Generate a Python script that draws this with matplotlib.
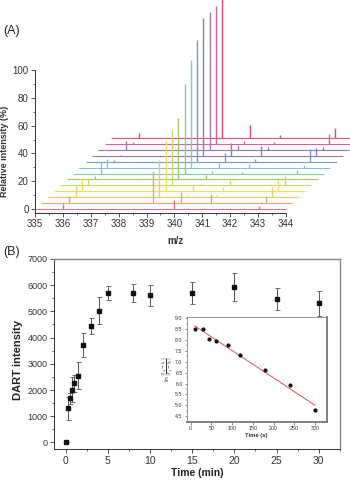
import numpy as np
import matplotlib
matplotlib.use("Agg")
import matplotlib.pyplot as plt
from matplotlib.ticker import MultipleLocator

plt.rcParams['font.family'] = ['Liberation Sans', 'DejaVu Sans']

# ---- panel A: stacked mass spectra (13 time points) ----
mz_main = 339.0
mz_minor = [336.0, 340.0, 341.07, 343.05]
h339 = [0, 22.8, 26.4, 36.0, 39.8, 44.6, 64.5, 77.5, 87.8, 99.5, 99.3, 99.5, 100]
h336 = [3.8, 4.8, 7.7, 9.4, 4.3, 2.6, 8.6, 6.2, 1.4, 0.5, 6.2, 1.2, 3.6]
h340 = [6.7, 7.9, 1.7, 4.6, 0.7, 3.4, 1.9, 3.6, 6.2, 8.9, 3.8, 1.9, 9.1]
h341 = [1.0, 6.2, 1.5, 3.1, 3.8, 0.7, 1.0, 2.4, 1.7, 7.0, 1.9, 1.7, 1.9]
h343 = [1.9, 5.0, 7.4, 8.4, 6.7, 0.5, 2.2, 1.7, 8.9, 5.3, 1.9, 7.2, 7.2]
mz_range = (335, 344)
spec_colors = ['#e8707a', '#f0a070', '#f5c870', '#ece060', '#c8dc60', '#98cc68',
               '#8cc8a0', '#80c4e4', '#7898d4', '#8080c0', '#a070b8', '#d060a8', '#e84868']

# ---- panel B: DART intensity vs time ----
t_min = [0, 0.25, 0.5, 0.75, 1, 1.5, 2, 3, 4, 5, 8, 10, 15, 20, 25, 30]
dart = [0, 1300, 1680, 2010, 2250, 2540, 3710, 4450, 5020, 5700, 5700, 5620, 5700, 5930, 5460, 5300]
dart_err = [0, 430, 200, 470, 340, 520, 450, 300, 510, 260, 360, 400, 420, 550, 420, 480]

# inset: kinetics
t_s = [10, 30, 45, 60, 90, 120, 180, 240, 300]
ln_ratio = [8.5, 8.5, 8.05, 7.97, 7.77, 7.32, 6.64, 5.91, 4.77]

fig = plt.figure(figsize=(3.5, 4.8), dpi=100)

# ================= panel A =================
axA = fig.add_axes([0.1, 0.556, 0.717, 0.298])
dx, dy = 0.227, 4.25
peak_sets = [(mz_minor[0], h336), (mz_minor[1], h340), (mz_minor[2], h341), (mz_minor[3], h343)]
n = len(h339)
for k in range(n - 1, -1, -1):
    c = spec_colors[k]
    z = 20 + (n - k)
    y0 = k * dy
    axA.hlines(y0, mz_range[0] + k * dx, mz_range[1] + k * dx, color=c, lw=0.8,
               clip_on=False, zorder=z)
    xs = [mz_main + k * dx] + [m + k * dx for m, _ in peak_sets]
    hs = [h339[k]] + [h[k] for _, h in peak_sets]
    axA.vlines(xs, y0, [y0 + h for h in hs], color=c, lw=1.0, clip_on=False, zorder=z)

axA.set_xlim(335, 344)
axA.set_ylim(-3, 100)
axA.spines['top'].set_visible(False)
axA.spines['right'].set_visible(False)
for s in ['left', 'bottom']:
    axA.spines[s].set_color('#333333')
    axA.spines[s].set_linewidth(0.7)
axA.xaxis.set_major_locator(MultipleLocator(1))
axA.xaxis.set_minor_locator(MultipleLocator(0.5))
axA.yaxis.set_major_locator(MultipleLocator(20))
axA.yaxis.set_minor_locator(MultipleLocator(10))
axA.tick_params(which='major', length=3, width=0.6, colors='#333333', labelsize=7, pad=1.5)
axA.tick_params(which='minor', length=1.5, width=0.5, colors='#333333')
axA.patch.set_alpha(0)
axA.set_xlabel('m/z', fontsize=7, fontweight='bold', color='#333333')
axA.xaxis.set_label_coords(0.558, -0.16)
axA.set_ylabel('Relative intensity (%)', fontsize=6.5, fontweight='bold', color='#333333')
axA.yaxis.set_label_coords(-0.105, 0.43)
fig.text(0.01, 0.935, '(A)', fontsize=9, va='center', color='#222222')

# ================= panel B =================
axB = fig.add_axes([0.154, 0.0646, 0.817, 0.396])
axB.errorbar(t_min, dart, yerr=dart_err, fmt='s', color='#111111', ms=3.5,
             ecolor='#555555', elinewidth=0.7, capsize=1.8, capthick=0.6, zorder=3)
axB.set_xlim(-1.4, 32.5)
axB.set_ylim(-250, 7000)
axB.xaxis.set_major_locator(MultipleLocator(5))
axB.xaxis.set_minor_locator(MultipleLocator(2.5))
axB.yaxis.set_major_locator(MultipleLocator(1000))
axB.yaxis.set_minor_locator(MultipleLocator(500))
axB.tick_params(axis='x', which='major', length=3, width=0.6, labelsize=7.5, colors='#333333', pad=2)
axB.tick_params(axis='y', which='major', length=3, width=0.6, labelsize=6.5, colors='#333333', pad=1.5)
axB.tick_params(which='minor', length=1.5, width=0.5, colors='#333333')
for s in ['left', 'bottom']:
    axB.spines[s].set_color('#333333')
    axB.spines[s].set_linewidth(0.7)
for s in ['top', 'right']:
    axB.spines[s].set_color('#888888')
    axB.spines[s].set_linewidth(1.0)
axB.set_xlabel('Time (min)', fontsize=7.5, fontweight='bold', color='#222222')
axB.xaxis.set_label_coords(0.5, -0.1)
axB.set_ylabel('DART intensity', fontsize=8, fontweight='bold', color='#222222')
axB.yaxis.set_label_coords(-0.108, 0.47)
fig.text(0.01, 0.475, '(B)', fontsize=9, va='center', color='#222222')

# ================= inset =================
axI = fig.add_axes([0.533, 0.1215, 0.4, 0.218])
coef = np.polyfit(t_s, ln_ratio, 1)
t_fit = np.array([t_s[0], t_s[-1]])
axI.plot(t_fit, np.polyval(coef, t_fit), color='#e05060', lw=0.7, zorder=2)
axI.plot(t_s, ln_ratio, 'o', color='#111111', ms=2, zorder=3)
axI.set_xlim(-10, 328)
axI.set_ylim(4.25, 9.05)
axI.xaxis.set_major_locator(MultipleLocator(50))
axI.xaxis.set_minor_locator(MultipleLocator(25))
axI.yaxis.set_major_locator(MultipleLocator(0.5))
axI.yaxis.set_minor_locator(MultipleLocator(0.25))
axI.yaxis.set_major_formatter(matplotlib.ticker.FormatStrFormatter('%.1f'))
axI.tick_params(which='major', length=1.8, width=0.4, labelsize=3.8, colors='#333333', pad=1)
axI.tick_params(which='minor', length=1, width=0.3, colors='#333333')
for s in ['left', 'top']:
    axI.spines[s].set_color('#888888')
    axI.spines[s].set_linewidth(0.6)
for s in ['right', 'bottom']:
    axI.spines[s].set_color('#777777')
    axI.spines[s].set_linewidth(1.3)
axI.set_xlabel('Time (s)', fontsize=4.2, fontweight='bold', color='#333333', labelpad=1.5)
axI.set_ylabel(r'$\ln\left[\frac{I_\infty - I_t}{I_\infty - I_0}\right]$', fontsize=4.5,
               color='#333333', labelpad=1)

fig.savefig('out.png', dpi=100)
